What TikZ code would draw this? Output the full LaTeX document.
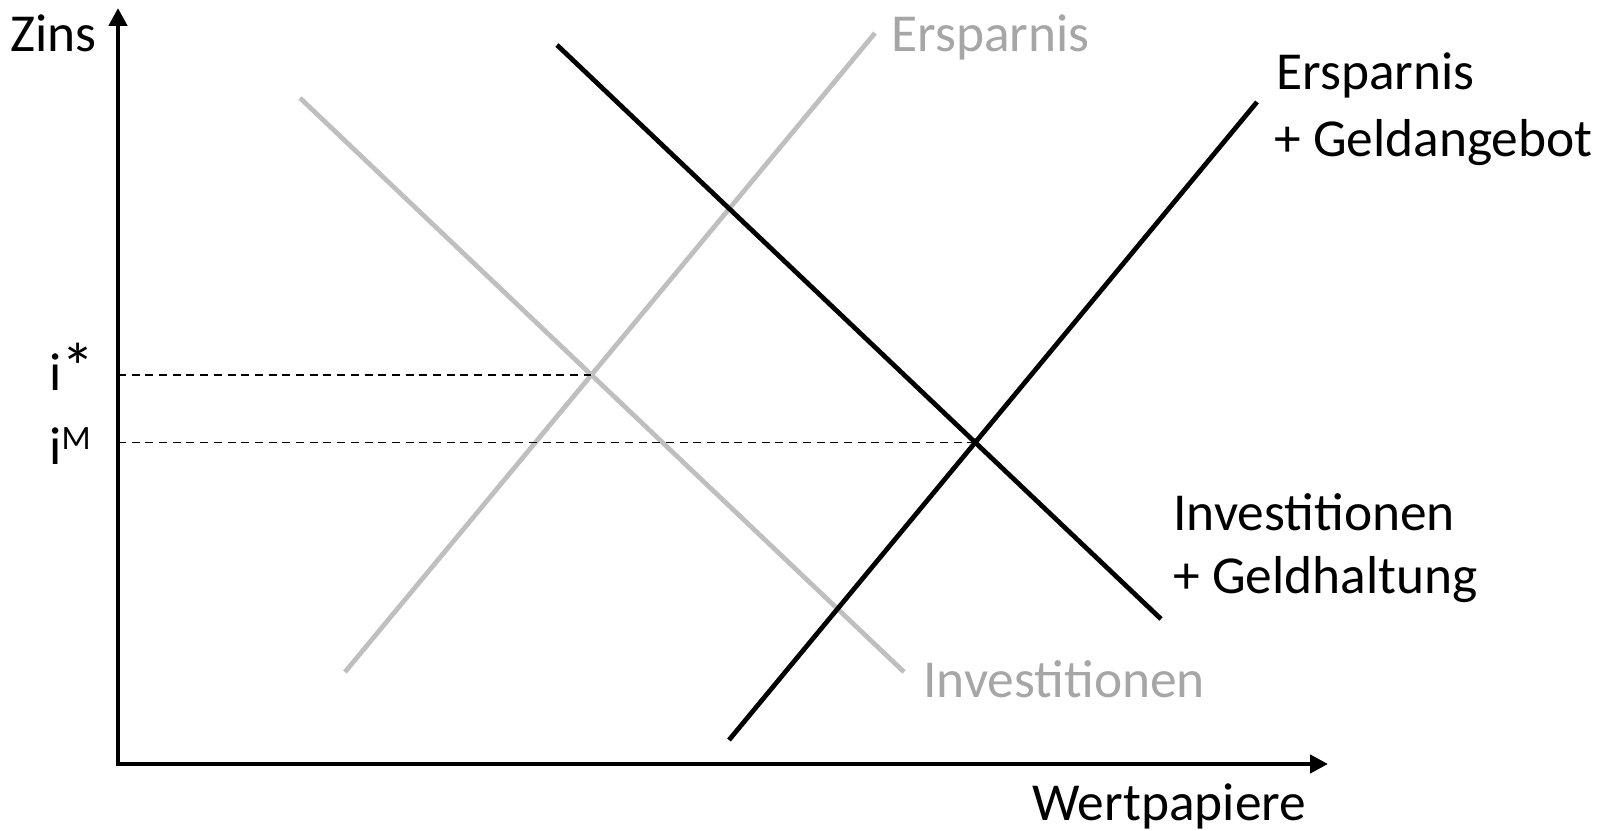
\documentclass[tikz,border=0pt]{standalone}
\usepackage{fontspec}
\setmainfont{Carlito}
\usetikzlibrary{arrows.meta, intersections}
\definecolor{lightcurve}{HTML}{BFBFBF}
\definecolor{lighttext}{HTML}{A6A6A6}

\begin{document}
\begin{tikzpicture}[
    x=0.02cm, y=-0.02cm,
    axis/.style={line width=0.095cm, {Triangle[length=0.36cm, width=0.36cm]}-{Triangle[length=0.36cm, width=0.36cm]}},
    curve/.style={line width=0.095cm},
    oldcurve/.style={curve, draw=lightcurve},
    guide/.style={line width=0.75pt, dash pattern=on 0.16cm off 0.114cm},
    lbl/.style={inner sep=0pt, anchor=base west, font=\fontsize{30.4}{36}\selectfont},
    oldlbl/.style={lbl, text=lighttext}
]
\useasboundingbox (0,0) rectangle (1616,831);
% Axes
\coordinate (O) at (118,764);
\coordinate (Ytip) at (118,8);
\coordinate (Xtip) at (1328,764);
\draw[axis] (Ytip) -- (O) -- (Xtip);
% Curve ends
\coordinate (S1a) at (345,672);
\coordinate (S1b) at (875,33);
\coordinate (I1a) at (300,98);
\coordinate (I1b) at (904,672);
\coordinate (I2a) at (557,45);
\coordinate (I2b) at (1161,619);
\coordinate (S2a) at (729,740);
\coordinate (S2b) at (1257,102);
% Curves
\draw[oldcurve, name path=S1] (S1a) -- (S1b);
\draw[oldcurve, name path=I1] (I1a) -- (I1b);
\draw[curve, name path=I2] (I2a) -- (I2b);
\draw[curve, name path=S2] (S2a) -- (S2b);
% Equilibria
\path[name intersections={of=S1 and I1, by=E1}];
\path[name intersections={of=S2 and I2, by=E2}];
\draw[guide] (O |- E1) -- (E1);
\draw[guide] (O |- E2) -- (E2);
% Labels
\node[lbl] (zins) at (10,52) {Zins};
\node[lbl] (wert) at (1032,820) {Wertpapiere};
\node[oldlbl] (ers1) at (891,52) {Ersparnis};
\node[oldlbl] (inv1) at (923,697) {Investitionen};
\node[lbl] (ers2) at (1276,90) {Ersparnis};
\node[lbl] (geld2) at (1274,157) {+ Geldangebot};
\node[lbl] (inv2) at (1173,530) {Investitionen};
\node[lbl] (halt2) at (1173,593) {+ Geldhaltung};
\node[lbl] (istar) at (49,390) {i{\fontsize{38}{38}\selectfont *}};
\node[lbl] (imon) at (49,464) {i\raisebox{8.5pt}{\fontsize{19.4}{20}\selectfont M}};
\end{tikzpicture}
\end{document}
